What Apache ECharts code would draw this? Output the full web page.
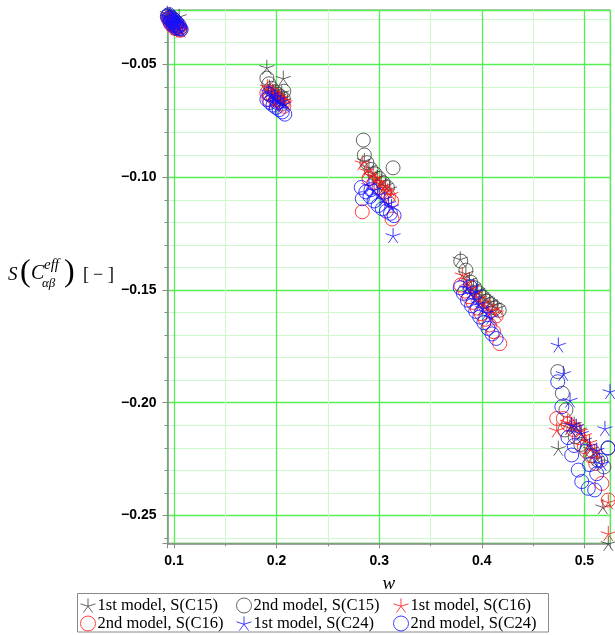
<!DOCTYPE html>
<html>
<head>
<meta charset="utf-8">
<script src="https://cdn.jsdelivr.net/npm/echarts@6/dist/echarts.min.js"></script>
<style>
html,body{margin:0;padding:0;background:#fff;}
#chart{width:615px;height:635px;}
</style>
</head>
<body>
<div id="chart"></div>
<script>
// ---- data: [w, S] pairs ----
const firstC15 = [
  [0.0935,-0.0272],[0.1050,-0.0286],[0.0955,-0.0285],[0.0975,-0.0297],[0.0995,-0.0308],[0.1015,-0.0318],[0.1035,-0.0328],[0.1055,-0.0338],[0.0965,-0.0280],[0.1005,-0.0300],
  [0.1905,-0.0512],[0.2065,-0.0560],[0.1930,-0.0600],[0.1960,-0.0620],[0.1990,-0.0630],[0.2020,-0.0640],[0.2045,-0.0650],[0.2070,-0.0660],[0.2050,-0.0625],
  [0.2855,-0.0925],[0.2900,-0.0955],[0.2940,-0.0980],[0.2980,-0.1000],[0.3020,-0.1015],[0.3060,-0.1035],[0.3100,-0.1050],
  [0.3790,-0.1362],[0.3845,-0.1425],[0.3880,-0.1455],[0.3920,-0.1480],[0.3960,-0.1500],[0.4000,-0.1520],[0.4040,-0.1535],[0.4080,-0.1550],[0.4120,-0.1565],[0.4155,-0.1578],
  [0.4746,-0.2202],[0.5233,-0.2624],[0.5180,-0.2461],[0.4900,-0.2095],[0.4950,-0.2120],[0.5000,-0.2165],[0.5060,-0.2205],[0.5120,-0.2245],[0.4860,-0.2110]
];
const secondC15 = [
  [0.0940,-0.0282],[0.0960,-0.0292],[0.0980,-0.0302],[0.1000,-0.0312],[0.1020,-0.0322],[0.1040,-0.0332],[0.1060,-0.0340],[0.0990,-0.0296],[0.1030,-0.0316],
  [0.1905,-0.0560],[0.1925,-0.0585],[0.2070,-0.0618],[0.1950,-0.0605],[0.1980,-0.0620],[0.2010,-0.0632],[0.2040,-0.0642],[0.2065,-0.0650],
  [0.2845,-0.0835],[0.2855,-0.0901],[0.3135,-0.0958],[0.2880,-0.0935],[0.2920,-0.0965],[0.2960,-0.0985],[0.3000,-0.1005],[0.3040,-0.1025],[0.3080,-0.1045],
  [0.3795,-0.1372],[0.3845,-0.1412],[0.3890,-0.1465],[0.3930,-0.1490],[0.3970,-0.1512],[0.4010,-0.1532],[0.4050,-0.1550],[0.4090,-0.1565],[0.4130,-0.1580],[0.4170,-0.1590],
  [0.4740,-0.1862],[0.4785,-0.1958],[0.4820,-0.2032],[0.4810,-0.2121],[0.4910,-0.2151],[0.4965,-0.2185],[0.5020,-0.2215],[0.5080,-0.2235],[0.5130,-0.2255],[0.5230,-0.2202],[0.5190,-0.2285]
];
const firstC16 = [
  [0.0945,-0.0290],[0.0965,-0.0300],[0.0985,-0.0311],[0.1005,-0.0321],[0.1025,-0.0331],[0.1045,-0.0340],[0.1065,-0.0347],[0.0975,-0.0316],[0.1015,-0.0336],
  [0.1910,-0.0598],[0.1940,-0.0612],[0.1970,-0.0625],[0.2000,-0.0638],[0.2030,-0.0648],[0.2060,-0.0660],[0.2080,-0.0668],[0.1990,-0.0660],
  [0.2835,-0.0935],[0.2880,-0.0970],[0.2920,-0.0990],[0.2960,-0.1005],[0.3000,-0.1025],[0.3040,-0.1045],[0.3080,-0.1060],[0.3115,-0.1075],
  [0.3810,-0.1432],[0.3855,-0.1465],[0.3900,-0.1490],[0.3940,-0.1515],[0.3980,-0.1535],[0.4020,-0.1555],[0.4060,-0.1572],[0.4100,-0.1588],[0.4140,-0.1600],
  [0.4730,-0.2121],[0.4835,-0.2085],[0.4875,-0.2095],[0.4920,-0.2105],[0.4960,-0.2125],[0.5000,-0.2145],[0.5050,-0.2175],[0.5100,-0.2215],[0.5233,-0.2440],[0.5233,-0.2580]
];
const secondC16 = [
  [0.0940,-0.0295],[0.0960,-0.0305],[0.0980,-0.0315],[0.1000,-0.0325],[0.1020,-0.0334],[0.1040,-0.0342],[0.1060,-0.0348],[0.0970,-0.0322],[0.1010,-0.0340],[0.1050,-0.0330],
  [0.1905,-0.0625],[0.1935,-0.0635],[0.1965,-0.0645],[0.1995,-0.0655],[0.2025,-0.0665],[0.2055,-0.0675],[0.1925,-0.0655],[0.2070,-0.0685],
  [0.2835,-0.1153],[0.3125,-0.1185],[0.2900,-0.1005],[0.2950,-0.1025],[0.3000,-0.1045],[0.3050,-0.1065],[0.3090,-0.1085],[0.3120,-0.1105],
  [0.3795,-0.1478],[0.3835,-0.1505],[0.3875,-0.1530],[0.3915,-0.1555],[0.3955,-0.1580],[0.3995,-0.1605],[0.4035,-0.1630],[0.4075,-0.1655],[0.4115,-0.1685],[0.4175,-0.1738],[0.4140,-0.1615],
  [0.4730,-0.2070],[0.4795,-0.2070],[0.4840,-0.2095],[0.4895,-0.2120],[0.4950,-0.2155],[0.5000,-0.2195],[0.5060,-0.2235],[0.5110,-0.2270],[0.5170,-0.2358],[0.5233,-0.2432],[0.5080,-0.2215]
];
const firstC24 = [
  [0.0950,-0.0288],[0.0970,-0.0298],[0.0990,-0.0308],[0.1010,-0.0318],[0.1030,-0.0328],[0.1050,-0.0336],[0.0980,-0.0292],[0.1020,-0.0312],
  [0.1920,-0.0620],[0.1950,-0.0632],[0.1980,-0.0645],[0.2010,-0.0655],[0.2040,-0.0665],[0.2070,-0.0675],[0.1965,-0.0665],
  [0.3135,-0.1258],[0.2900,-0.1035],[0.2950,-0.1055],[0.3000,-0.1075],[0.3050,-0.1095],[0.3090,-0.1115],[0.3120,-0.1130],
  [0.3855,-0.1490],[0.3890,-0.1515],[0.3930,-0.1540],[0.3970,-0.1560],[0.4010,-0.1580],[0.4050,-0.1600],[0.4090,-0.1620],[0.3950,-0.1505],
  [0.4746,-0.1744],[0.4795,-0.1870],[0.4860,-0.1988],[0.5250,-0.1950],[0.5200,-0.2114],[0.4876,-0.2099],[0.4920,-0.2105],[0.4970,-0.2135],[0.5050,-0.2190],[0.5120,-0.2210],[0.5168,-0.2269]
];
const secondC24 = [
  [0.0935,-0.0286],[0.0950,-0.0294],[0.0965,-0.0301],[0.0980,-0.0308],[0.0995,-0.0315],[0.1010,-0.0322],[0.1025,-0.0329],[0.1040,-0.0335],[0.1055,-0.0340],[0.1070,-0.0344],
  [0.0950,-0.0278],[0.0975,-0.0290],[0.1000,-0.0302],[0.1025,-0.0313],[0.1050,-0.0325],[0.0960,-0.0312],[0.0990,-0.0326],[0.1020,-0.0338],
  [0.1905,-0.0655],[0.1935,-0.0668],[0.1965,-0.0680],[0.1995,-0.0690],[0.2025,-0.0700],[0.2055,-0.0710],[0.2080,-0.0720],[0.1925,-0.0630],[0.2005,-0.0668],
  [0.2825,-0.1045],[0.2835,-0.1095],[0.2870,-0.1065],[0.2910,-0.1085],[0.2950,-0.1105],[0.2990,-0.1125],[0.3030,-0.1140],[0.3070,-0.1150],[0.3110,-0.1160],[0.3145,-0.1170],[0.2920,-0.1055],
  [0.3790,-0.1490],[0.3820,-0.1515],[0.3860,-0.1545],[0.3900,-0.1570],[0.3940,-0.1595],[0.3980,-0.1620],[0.4020,-0.1645],[0.4060,-0.1670],[0.4100,-0.1695],[0.4140,-0.1715],[0.3885,-0.1485],
  [0.4740,-0.1907],[0.4780,-0.2018],[0.4876,-0.2232],[0.4940,-0.2299],[0.4974,-0.2350],[0.5038,-0.2380],[0.5100,-0.2387],[0.4840,-0.2155],[0.4900,-0.2190],[0.5050,-0.2275],[0.5120,-0.2315],[0.5160,-0.2255],[0.5230,-0.2200]
];
const seriesNames = ['1st model, S(C15)','2nd model, S(C15)','1st model, S(C16)','2nd model, S(C16)','1st model, S(C24)','2nd model, S(C24)'];
const xRange = [0.09366, 0.52524];
const yRange = [-0.26238, -0.02578];

// ---- styling ----
const starPath = 'path://M0,0L0,-10M0,0L9.51,-3.09M0,0L5.88,8.09M0,0L-5.88,8.09M0,0L-9.51,-3.09';
const BLACK = '#3c3c3c', RED = '#ff1010', BLUE = '#1010ff';
const dataSets = [firstC15, secondC15, firstC16, secondC16, firstC24, secondC24];
const colors = [BLACK, BLACK, RED, RED, BLUE, BLUE];
const symbols = [starPath, 'circle', starPath, 'circle', starPath, 'circle'];
const sizes = [15, 14, 15, 14, 15, 14];

const series = dataSets.map((d, i) => ({
  name: seriesNames[i],
  type: 'scatter',
  data: d,
  symbol: symbols[i],
  symbolSize: sizes[i],
  clip: false,
  animation: false,
  itemStyle: { color: 'rgba(0,0,0,0)', borderColor: colors[i], borderWidth: 1 },
  emphasis: { disabled: true }
}));

const legendCols = [80, 236, 393];
const legendRows = [597, 615];
const legends = seriesNames.map((n, i) => ({
  left: legendCols[i % 3],
  top: legendRows[Math.floor(i / 3)],
  padding: 0,
  itemWidth: 15,
  itemHeight: 15,
  itemGap: 0,
  selectedMode: false,
  data: [{ name: n, icon: symbols[i] }],
  itemStyle: { color: 'rgba(0,0,0,0)', borderColor: colors[i], borderWidth: 1 },
  textStyle: { fontFamily: 'Liberation Serif', fontSize: 16.5, color: '#000', padding: [0, 0, 0, -3] }
}));

const GRID_MAJOR = '#55ee55', GRID_MINOR = '#cdf7cd', AXIS = '#8a8a8a';
const lblStyle = { fontFamily: 'Liberation Sans', fontWeight: 'bold', fontSize: 14, color: '#000' };
const serif = '"Liberation Serif"';

const chart = echarts.init(document.getElementById('chart'), null, { renderer: 'canvas' });
chart.setOption({
  backgroundColor: '#fff',
  animation: false,
  grid: { left: 167.5, right: 4.7, top: 10, bottom: 91.7, show: true, borderColor: AXIS, borderWidth: 1, backgroundColor: 'transparent' },
  xAxis: {
    type: 'value', min: xRange[0], max: xRange[1],
    axisLine: { lineStyle: { color: AXIS, width: 1.5 } },
    axisTick: { show: true, length: 5, inside: false, lineStyle: { color: AXIS } },
    minorTick: { show: true, splitNumber: 2, length: 3, lineStyle: { color: AXIS } },
    splitLine: { show: true, lineStyle: { color: GRID_MAJOR, width: 1.3 } },
    minorSplitLine: { show: true, lineStyle: { color: GRID_MINOR, width: 1 } },
    axisLabel: Object.assign({ margin: 11, showMinLabel: false, showMaxLabel: false, formatter: v => v.toFixed(1) }, lblStyle),
    name: 'w', nameLocation: 'middle', nameGap: 31,
    nameTextStyle: { fontFamily: 'Liberation Serif', fontStyle: 'italic', fontSize: 19, color: '#000' }
  },
  yAxis: {
    type: 'value', min: yRange[0], max: yRange[1],
    axisLine: { lineStyle: { color: AXIS, width: 1.5 } },
    axisTick: { show: true, length: 5, inside: false, lineStyle: { color: AXIS } },
    minorTick: { show: true, splitNumber: 5, length: 3, lineStyle: { color: AXIS } },
    splitLine: { show: true, lineStyle: { color: GRID_MAJOR, width: 1.3 } },
    minorSplitLine: { show: true, lineStyle: { color: GRID_MINOR, width: 1 } },
    axisLabel: Object.assign({ margin: 11, showMinLabel: false, showMaxLabel: false, formatter: v => (v < 0 ? '\u2212' : '') + Math.abs(v).toFixed(2) }, lblStyle)
  },
  legend: legends,
  graphic: [
    { type: 'rect', shape: { x: 77.5, y: 593.5, width: 471, height: 38.5 }, style: { fill: 'none', stroke: AXIS, lineWidth: 1 }, silent: true },
    { type: 'text', x: 8, y: 275, style: { text: 'S', font: 'italic 19px ' + serif, fill: '#000', verticalAlign: 'middle' } },
    { type: 'text', x: 20, y: 273, style: { text: '(', font: '32px ' + serif, fill: '#000', verticalAlign: 'middle' } },
    { type: 'text', x: 31, y: 274, style: { text: 'C', font: 'italic 20px ' + serif, fill: '#000', verticalAlign: 'middle' } },
    { type: 'text', x: 44, y: 265, style: { text: 'eff', font: 'italic 15px ' + serif, fill: '#000', verticalAlign: 'middle' } },
    { type: 'text', x: 42, y: 284, style: { text: '\u03b1\u03b2', font: 'italic 13px ' + serif, fill: '#000', verticalAlign: 'middle' } },
    { type: 'text', x: 64, y: 273, style: { text: ')', font: '32px ' + serif, fill: '#000', verticalAlign: 'middle' } },
    { type: 'text', x: 83, y: 275, style: { text: '[', font: '18px ' + serif, fill: '#000', verticalAlign: 'middle' } },
    { type: 'text', x: 93, y: 275, style: { text: '\u2212', font: '18px ' + serif, fill: '#000', verticalAlign: 'middle' } },
    { type: 'text', x: 108, y: 275, style: { text: ']', font: '18px ' + serif, fill: '#000', verticalAlign: 'middle' } }
  ],
  series: series
});
</script>
</body>
</html>
